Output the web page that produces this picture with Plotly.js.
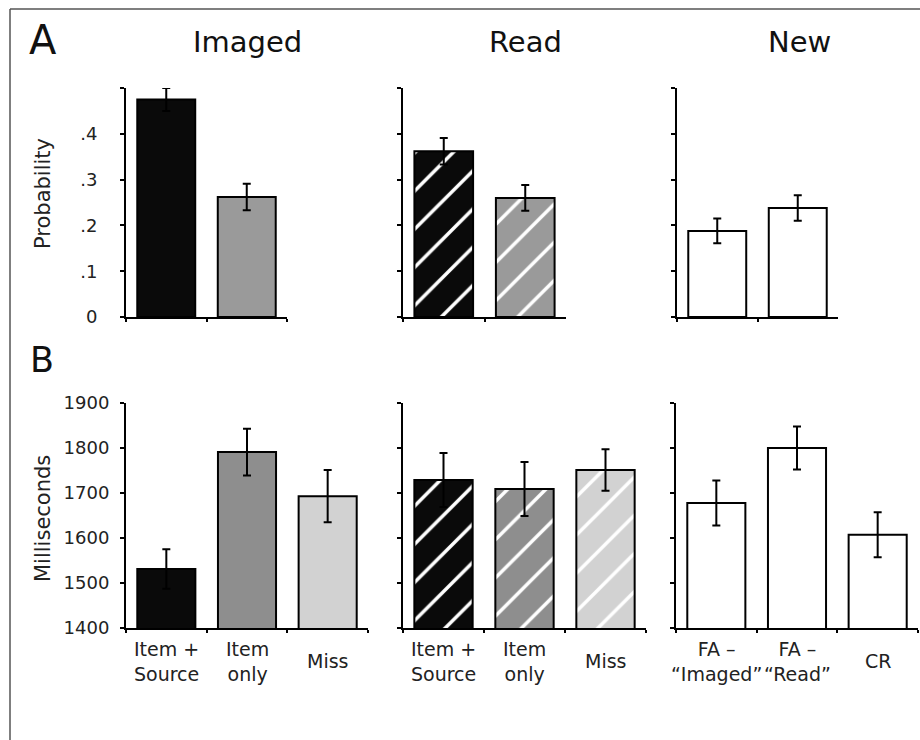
<!DOCTYPE html>
<html>
<head>
<meta charset="utf-8">
<script src="https://cdn.plot.ly/plotly-3.0.1.min.js"></script>
<style>html,body{margin:0;padding:0;background:#fff;}#chart{width:920px;height:740px;}</style>
</head>
<body>
<div id="chart"></div>
<script>
// ---- data ----
const probCats = ["Item + Source", "Item only"];
const newProbCats = ["FA Imaged", "FA Read"];
const rtCats = ["Item + Source", "Item only", "Miss"];
const newRtCats = ["FA Imaged", "FA Read", "CR"];
const rtCatLabels = ["Item +<br>Source", "Item<br>only", "Miss"];
const newRtCatLabels = ["FA –<br>“Imaged”", "FA –<br>“Read”", "CR"];

const imagedProb = [0.475, 0.262];
const imagedProbErr = [0.025, 0.029];
const readProb = [0.362, 0.260];
const readProbErr = [0.029, 0.028];
const newProb = [0.188, 0.238];
const newProbErr = [0.027, 0.028];

const imagedRT = [1531, 1791, 1693];
const imagedRTErr = [44, 52, 58];
const readRT = [1729, 1709, 1751];
const readRTErr = [60, 60, 46];
const newRT = [1678, 1800, 1607];
const newRTErr = [50, 48, 50];

const probTicks = [0, 0.1, 0.2, 0.3, 0.4, 0.5];
const probTickText = ["0", ".1", ".2", ".3", ".4", ""];
const rtTicks = [1400, 1500, 1600, 1700, 1800, 1900];
const rtTickText = ["1400", "1500", "1600", "1700", "1800", "1900"];

const panelTitles = ["Imaged", "Read", "New"];

// ---- styles ----
const FONT = "DejaVu Sans, Liberation Sans, Arial, sans-serif";
const BLACK = "#0a0a0a", GREY = "#9a9a9a", GREY2 = "#8e8e8e", LIGHT = "#d2d2d2", WHITE = "#ffffff";

const data = [];
// one trace per bar so each bar keeps its own solid colour / hatch pattern
function panel(cats, vals, errs, cols, hatch, xa, ya) {
  cats.forEach((c, i) => {
    const marker = {color: cols[i], line: {color: "#000", width: 2}};
    if (hatch) marker.pattern = {shape: "/", bgcolor: cols[i], fgcolor: "#ffffff", fgopacity: 1,
      fillmode: "replace", size: 27, solidity: 0.13};
    data.push({type: "bar", x: [c], y: [vals[i]], xaxis: xa, yaxis: ya, marker: marker, width: 0.72,
      error_y: {type: "data", array: [errs[i]], visible: true, color: "#000", thickness: 2, width: 4},
      hoverinfo: "skip", showlegend: false});
  });
}
panel(probCats, imagedProb, imagedProbErr, [BLACK, GREY], false, "x", "y");
panel(probCats, readProb, readProbErr, [BLACK, GREY], true, "x2", "y2");
panel(newProbCats, newProb, newProbErr, [WHITE, WHITE], false, "x3", "y3");
panel(rtCats, imagedRT, imagedRTErr, [BLACK, GREY2, LIGHT], false, "x4", "y4");
panel(rtCats, readRT, readRTErr, [BLACK, GREY2, LIGHT], true, "x5", "y5");
panel(newRtCats, newRT, newRTErr, [WHITE, WHITE, WHITE], false, "x6", "y6");

const W = 920, H = 740;
const px = v => v / W;
const py = v => 1 - v / H;

function xax(d0, d1, anchor, cats) {
  return {domain: [px(d0), px(d1)], anchor: anchor, range: [-0.5, cats.length - 0.5], type: "category",
    categoryorder: "array", categoryarray: cats,
    showline: true, linecolor: "#000", linewidth: 2, ticks: "outside", tickson: "boundaries",
    ticklen: 3, tickwidth: 2, tickcolor: "#000", showticklabels: false, showgrid: false,
    zeroline: false, fixedrange: true};
}
function yax(d0, d1, anchor, range, tv, tt, showLabels, standoff) {
  return {domain: [py(d0), py(d1)], anchor: anchor, range: range, showline: true, linecolor: "#000",
    linewidth: 2, ticks: "outside", ticklen: 4, tickwidth: 2, tickcolor: "#000",
    tickvals: tv, ticktext: tt, showticklabels: showLabels, ticklabelstandoff: standoff,
    tickfont: {family: FONT, size: 18, color: "#222"}, showgrid: false, zeroline: false, fixedrange: true};
}

const topB = 317, topT = 88, botB = 628, botT = 403;
const layout = {
  width: W, height: H, margin: {l: 0, r: 0, t: 0, b: 0}, paper_bgcolor: "#fff", plot_bgcolor: "rgba(0,0,0,0)",
  font: {family: FONT, color: "#222"}, showlegend: false, barmode: "overlay",
  xaxis: xax(126, 287, "y", probCats), yaxis: yax(topB, topT, "x", [0, 0.5], probTicks, probTickText, true, 19),
  xaxis2: xax(403, 566, "y2", probCats), yaxis2: yax(topB, topT, "x2", [0, 0.5], probTicks, probTickText, false, 0),
  xaxis3: xax(677, 838, "y3", newProbCats), yaxis3: yax(topB, topT, "x3", [0, 0.5], probTicks, probTickText, false, 0),
  xaxis4: xax(126, 368, "y4", rtCats), yaxis4: yax(botB, botT, "x4", [1400, 1900], rtTicks, rtTickText, true, 7),
  xaxis5: xax(403, 646, "y5", rtCats), yaxis5: yax(botB, botT, "x5", [1400, 1900], rtTicks, rtTickText, false, 0),
  xaxis6: xax(676, 918, "y6", newRtCats), yaxis6: yax(botB, botT, "x6", [1400, 1900], rtTicks, rtTickText, false, 0),
  shapes: [
    {type: "line", xref: "paper", yref: "paper", x0: px(10), x1: 1, y0: py(9), y1: py(9), line: {color: "#555", width: 1.5}},
    {type: "line", xref: "paper", yref: "paper", x0: px(10), x1: px(10), y0: py(9), y1: 0, line: {color: "#555", width: 1.5}}
  ],
  annotations: []
};

const ann = layout.annotations;
ann.push({text: "A", xref: "paper", yref: "paper", x: px(27), y: py(40), xanchor: "left", yanchor: "middle", showarrow: false, font: {family: FONT, size: 40, color: "#111"}});
ann.push({text: "B", xref: "paper", yref: "paper", x: px(28), y: py(360), xanchor: "left", yanchor: "middle", showarrow: false, font: {family: FONT, size: 35, color: "#111"}});
const titleX = [247, 525, 799];
panelTitles.forEach((t, i) => ann.push({text: t, xref: "paper", yref: "paper", x: px(titleX[i]), y: py(42), xanchor: "center", yanchor: "middle", showarrow: false, font: {family: FONT, size: 29, color: "#111"}}));
ann.push({text: "Probability", xref: "paper", yref: "paper", x: px(43), y: py(194), textangle: -90, xanchor: "center", yanchor: "middle", showarrow: false, font: {family: FONT, size: 21, color: "#222"}});
ann.push({text: "Milliseconds", xref: "paper", yref: "paper", x: px(43), y: py(519), textangle: -90, xanchor: "center", yanchor: "middle", showarrow: false, font: {family: FONT, size: 21, color: "#222"}});

function catLabels(cats, labels, xa) {
  cats.forEach((c, i) => ann.push({text: labels[i], xref: xa, yref: "paper", x: c, y: py(661), xanchor: "center", yanchor: "middle", showarrow: false, font: {family: FONT, size: 19, color: "#222"}}));
}
catLabels(rtCats, rtCatLabels, "x4");
catLabels(rtCats, rtCatLabels, "x5");
catLabels(newRtCats, newRtCatLabels, "x6");

Plotly.newPlot("chart", data, layout, {staticPlot: true, displayModeBar: false});
</script>
</body>
</html>
